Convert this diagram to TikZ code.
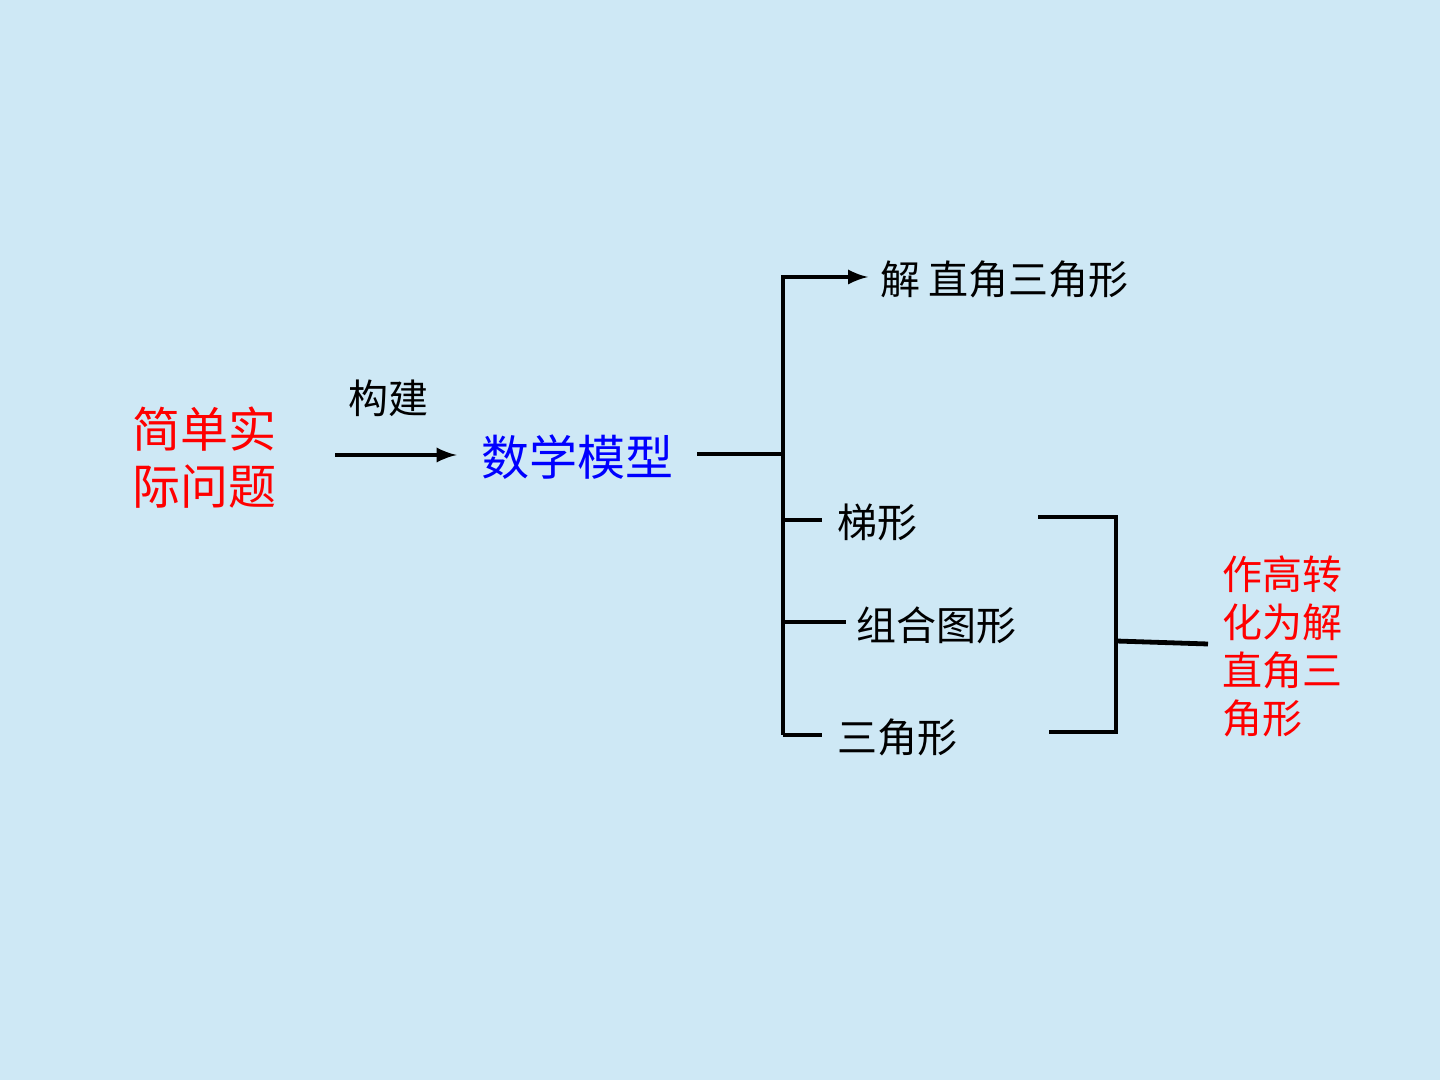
\documentclass[tikz,border=0pt]{standalone}
\usepackage{fontspec}
\newfontfamily\cjk{Noto Sans CJK SC}
\usepackage{tikz}
\usetikzlibrary{arrows}

\definecolor{bgcol}{RGB}{206,232,245}
\definecolor{redcol}{RGB}{255,0,0}
\definecolor{bluecol}{RGB}{0,0,255}

\tikzset{
  lbl/.style={inner sep=0pt, font=\cjk\fontsize{20bp}{24bp}\selectfont},
  biglbl/.style={inner sep=0pt, align=left, font=\cjk\fontsize{24bp}{28.5bp}\selectfont},
  link/.style={line width=2.4bp}
}

\begin{document}
\begin{tikzpicture}[>=latex,line join=miter]
  \fill[bgcol] (0bp,0bp) rectangle (720bp,540bp);
  \useasboundingbox (0bp,0bp) rectangle (720bp,540bp);
%%
% Node: problem
  \node[biglbl, text=redcol] (problem) at (102bp,311bp) {简单实\\际问题};
% Node: build
  \node[lbl] (build) at (194bp,341bp) {构建};
% Node: model
  \node[biglbl, text=bluecol] (model) at (288.5bp,311.5bp) {数学模型};
% Node: solve
  \node[lbl, anchor=west] (solve) at (440bp,400.5bp) {解\hspace{4bp}直角三角形};
% Node: trap
  \node[lbl, anchor=west] (trap) at (418.5bp,279bp) {梯形};
% Node: combo
  \node[lbl, anchor=west] (combo) at (428bp,227.5bp) {组合图形};
% Node: tri
  \node[lbl, anchor=west] (tri) at (418.5bp,171.5bp) {三角形};
% Node: height
  \node[lbl, anchor=west, align=left, text=redcol] (height) at (611bp,216.75bp) {作高转\\化为解\\直角三\\角形};
%
  % junctions
  \coordinate (mj) at (391.5bp,313bp);
  \coordinate (mt) at (391.5bp,401.5bp);
  \coordinate (mb) at (391.5bp,172.5bp);
  \coordinate (bt) at (558bp,281.5bp);
  \coordinate (bb) at (558bp,174bp);
  \coordinate (bm) at (558bp,219.5bp);
%
  % Edge: problem -> model
  \draw[link,->] (167.5bp,312.5bp) -- ([xshift=-12bp]model.west |- 0,312.5bp);
  % Edge: model -> solve
  \draw[link] ([xshift=12bp]model.east |- mj) -- (mj);
  \draw[link,->] (mb) -- (mt) -- ([xshift=-6bp]solve.west |- mt);
  % Edge: model -> trap, combo, tri
  \draw[link] (mj |- 0,280bp) -- ([xshift=-7.5bp]trap.west |- 0,280bp);
  \draw[link] (mj |- 0,229bp) -- ([xshift=-5bp]combo.west |- 0,229bp);
  \draw[link] (mb) -- ([xshift=-7.5bp]tri.west |- mb);
  % Edge: trap, tri -> height
  \draw[link] (519bp,281.5bp) -- (bt) -- (bb) -- (524.5bp,174bp);
  \draw[link] (bm) -- ([xshift=-7bp]height.west |- 0,218bp);
%
\end{tikzpicture}
\end{document}
